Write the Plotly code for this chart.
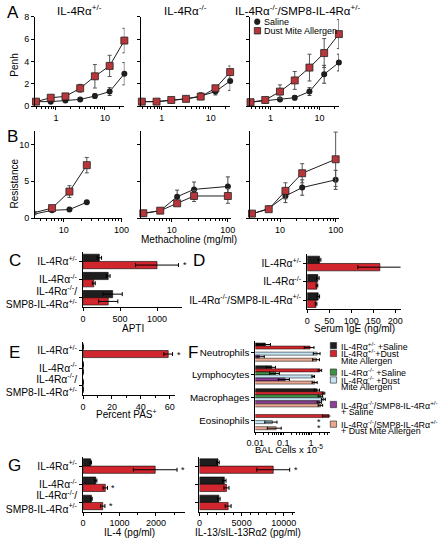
import plotly.graph_objects as go

W, H = 448, 544
FONT = "Liberation Sans, Arial, sans-serif"

# ---------------- data ----------------
doses_A = [0.39, 0.78, 1.56, 3.125, 6.25, 12.5, 25]
doses_B1 = [3.125, 6.25, 12.5, 25]
doses_B = [3.125, 6.25, 12.5, 25, 100]

titles_A = ["IL-4Rα<sup>+/-</sup>", "IL-4Rα<sup>-/-</sup>",
            "IL-4Rα<sup>-/-</sup>/SMP8-IL-4Rα<sup>+/-</sup>"]

penh_saline = [[0.4, 0.4, 0.5, 0.6, 0.9, 1.3, 2.9],
               [0.4, 0.4, 0.5, 0.65, 0.9, 1.3, 2.25],
               [0.35, 0.5, 0.6, 0.75, 1.3, 2.85, 3.9]]
penh_saline_err = [[0.1, 0.1, 0.1, 0.1, 0.2, 0.35, 1.0],
                   [0.1, 0.1, 0.1, 0.1, 0.3, 0.3, 0.85],
                   [0.1, 0.1, 0.15, 0.2, 0.35, 0.8, 0.75]]
penh_dust = [[0.4, 0.75, 0.87, 1.6, 2.67, 3.6, 5.87],
             [0.4, 0.4, 0.55, 0.65, 0.85, 1.6, 3.05],
             [0.35, 0.55, 1.3, 2.3, 3.45, 4.75, 6.45]]
penh_dust_err = [[0.1, 0.15, 0.15, 0.35, 1.05, 0.95, 1.1],
                 [0.1, 0.1, 0.1, 0.1, 0.2, 0.2, 0.55],
                 [0.1, 0.1, 0.6, 0.8, 1.2, 1.3, 1.3]]

res_saline = [[0.55, 1.05, 1.15, 2.15],
              [0.6, 1.0, 2.9, 3.9, 4.3],
              [0.55, 1.3, 3.0, 4.15, 5.2]]
res_saline_err = [[0.1, 0.1, 0.1, 0.2],
                  [0.3, 0.15, 0.9, 1.0, 1.3],
                  [0.2, 0.15, 0.9, 1.05, 1.3]]
res_dust = [[0.75, 1.35, 3.6, 7.2],
            [0.65, 1.0, 2.0, 3.0, 3.0],
            [0.6, 1.2, 3.7, 6.1, 8.0]]
res_dust_err = [[0.15, 0.15, 0.8, 1.05],
                [0.2, 0.15, 0.3, 0.75, 1.0],
                [0.15, 0.2, 1.1, 1.3, 3.7]]

geno_keys = ["het", "ko", "tg"]
geno_labels = ["IL-4Rα<sup>+/-</sup>", "IL-4Rα<sup>-/-</sup>",
               "IL-4Rα<sup>-/-</sup>/<br>SMP8-IL-4Rα<sup>+/-</sup>"]
geno_labels_D = ["IL-4Rα<sup>+/-</sup>", "IL-4Rα<sup>-/-</sup>",
                 "IL-4Rα<sup>-/-</sup>/SMP8-IL-4Rα<sup>+/-</sup>"]

apti_saline = [220, 340, 400]
apti_saline_err = [30, 25, 130]
apti_dust = [1000, 145, 340]
apti_dust_err = [290, 20, 130]

ige_saline = [28, 24, 25]
ige_saline_err = [3, 3, 3]
ige_dust = [165, 22, 20]
ige_dust_err = [50, 2, 2]

pas_saline = [0, 0, 0]
pas_dust = [59, 0, 0]
pas_dust_err = [3, 0, 0]

cell_types = ["Neutrophils", "Lymphocytes", "Macrophages", "Eosinophils"]
bal_values = [[0.023, 0.039, 1.65, None],
              [0.92, 2.1, 2.8, 4.4],
              [None, 0.053, 2.2, None],
              [1.65, 1.2, 2.8, 0.041],
              [0.014, 0.117, 2.0, None],
              [1.57, 1.37, 2.2, 0.056]]
bal_err = [[0.012, 0.014, 0.35, 0],
           [0.35, 0.3, 0.3, 1.8],
           [0, 0.02, 0.4, 0],
           [0.45, 0.13, 0.45, 0.019],
           [0.007, 0.05, 0.35, 0],
           [0.43, 0.28, 0.4, 0.029]]
bal_colors = ["#1e1e1e", "#d1262d", "#3f9147", "#c4e4f3", "#8e3f98", "#e8a891"]
bal_legend = [["IL-4Rα<sup>+/-</sup> +Saline"],
              ["IL-4Rα<sup>+/-</sup>+Dust", "Mite Allergen"],
              ["IL-4Rα<sup>-/-</sup> +Saline"],
              ["IL-4Rα<sup>-/-</sup> +Dust", "Mite Allergen"],
              ["IL-4Rα<sup>-/-</sup>/SMP8-IL-4Rα<sup>+/-</sup>", "+ Saline"],
              ["IL-4Rα<sup>-/-</sup>/SMP8-IL-4Rα<sup>+/-</sup>", "+ Dust Mite Allergen"]]

il4_saline = [210, 350, 230]
il4_saline_err = [20, 30, 20]
il4_dust = [1980, 610, 540]
il4_dust_err = [600, 60, 60]
il13_saline = [2200, 2950, 2300]
il13_saline_err = [150, 200, 150]
il13_dust = [8750, 3200, 3400]
il13_dust_err = [1950, 300, 350]

# ---------------- helpers ----------------
def dx(a, b):
    return [a / W, b / W]

def dy(top, bottom):
    return [1 - bottom / H, 1 - top / H]

def px(x):
    return x / W

def py(y):
    return 1 - y / H

BLACK = "#1e1e1e"
RED = "#d1262d"
SQ_RED = "#b8363a"
TICKSIZE = 9
CATSIZE = 10.3

def base_axis(dom, rng, **kw):
    d = dict(domain=dom, range=rng, showline=True, linecolor="black", linewidth=1,
             ticks="outside", ticklen=3, tickwidth=1, tickcolor="black",
             showgrid=False, zeroline=False,
             tickfont=dict(size=TICKSIZE, color="black", family=FONT))
    d.update(kw)
    return d

fig = go.Figure()
layout = {}
annotations = []
shapes = []

def star(xr, yr, x, y, xshift=6, yshift=0):
    annotations.append(dict(xref=xr, yref=yr, x=x, y=y, text="*", showarrow=False,
                            xshift=xshift, yshift=yshift, xanchor="center", yanchor="middle",
                            font=dict(size=9, color="black", family=FONT)))

def text(x, y, t, size=10, angle=0, xanchor="center", yanchor="middle"):
    annotations.append(dict(xref="paper", yref="paper", x=px(x), y=py(y), text=t,
                            showarrow=False, textangle=angle, xanchor=xanchor,
                            yanchor=yanchor, font=dict(size=size, color="black", family=FONT)))

# ---------------- Panel A ----------------
A_dom = [(27, 120), (137, 230), (250, 343)]
minorA = [0.4, 0.5, 0.6, 0.7, 0.8, 0.9, 2, 3, 4, 5, 6, 7, 8, 9, 20]
for i in range(3):
    n = i + 1
    xa = "x" if n == 1 else f"x{n}"
    ya = "y" if n == 1 else f"y{n}"
    layout["xaxis" if n == 1 else f"xaxis{n}"] = base_axis(
        dx(*A_dom[i]), [-0.43, 1.40], type="log", anchor=ya,
        tickvals=[1, 10], ticktext=["1", "10"],
        minor=dict(tickvals=minorA, ticks="outside", ticklen=2, tickcolor="black"))
    layout["yaxis" if n == 1 else f"yaxis{n}"] = base_axis(
        dy(12, 103), [0, 8], anchor=xa, tickvals=[0, 2, 4, 6, 8],
        showticklabels=(i == 0))
    fig.add_trace(go.Scatter(x=doses_A, y=penh_saline[i], xaxis=xa, yaxis=ya,
                             mode="lines+markers", showlegend=False, cliponaxis=False,
                             line=dict(color=BLACK, width=1),
                             marker=dict(symbol="circle", size=6, color=BLACK),
                             error_y=dict(type="data", array=penh_saline_err[i],
                                          color="#444", thickness=1, width=2)))
    fig.add_trace(go.Scatter(x=doses_A, y=penh_dust[i], xaxis=xa, yaxis=ya,
                             mode="lines+markers", showlegend=False, cliponaxis=False,
                             line=dict(color=BLACK, width=1),
                             marker=dict(symbol="square", size=7, color=SQ_RED,
                                         line=dict(color="#222", width=0.8)),
                             error_y=dict(type="data", array=penh_dust_err[i],
                                          color="#555", thickness=1, width=2)))
    text(sum(A_dom[i]) / 2 + (0 if i < 2 else 3), 5, titles_A[i], size=11.5)

star("x", "y", doses_A[-1], penh_dust[0][-1], xshift=8, yshift=2)
star("x3", "y3", doses_A[-1], penh_dust[2][-1], xshift=8, yshift=0)
text(6, 61, "Penh", size=10, angle=-90)
text(4, 8, "A", size=17)

# legend for A
shapes.append(dict(type="circle", xref="paper", yref="paper",
                   x0=px(255), x1=px(261), y0=py(20), y1=py(14),
                   fillcolor=BLACK, line=dict(color=BLACK, width=0.5)))
shapes.append(dict(type="rect", xref="paper", yref="paper",
                   x0=px(255), x1=px(261.5), y0=py(29.5), y1=py(23),
                   fillcolor=SQ_RED, line=dict(color="#222", width=0.8)))
text(263, 17, "Saline", size=9, xanchor="left")
text(263, 26.5, "Dust Mite Allergen", size=9, xanchor="left")

# ---------------- Panel B ----------------
B_dom = [(27, 117), (137, 231), (250, 343)]
B_rng = [[0.5, 2.0], [0.45, 2.06], [0.45, 2.06]]
minorB = [4, 5, 6, 7, 8, 9, 20, 30, 40, 50, 60, 70, 80, 90]
for i in range(3):
    n = i + 4
    xa, ya = f"x{n}", f"y{n}"
    layout[f"xaxis{n}"] = base_axis(
        dx(*B_dom[i]), B_rng[i], type="log", anchor=ya,
        tickvals=[10, 100], ticktext=["10", "100"],
        minor=dict(tickvals=minorB, ticks="outside", ticklen=2, tickcolor="black"))
    layout[f"yaxis{n}"] = base_axis(dy(128, 217), [0, 11.9], anchor=xa,
                                   tickvals=[0, 5, 10], showticklabels=(i == 0))
    xs = doses_B1 if i == 0 else doses_B
    fig.add_trace(go.Scatter(x=xs, y=res_saline[i], xaxis=xa, yaxis=ya,
                             mode="lines+markers", showlegend=False, cliponaxis=False,
                             line=dict(color=BLACK, width=1),
                             marker=dict(symbol="circle", size=6, color=BLACK),
                             error_y=dict(type="data", array=res_saline_err[i],
                                          color="#444", thickness=1, width=2)))
    fig.add_trace(go.Scatter(x=xs, y=res_dust[i], xaxis=xa, yaxis=ya,
                             mode="lines+markers", showlegend=False, cliponaxis=False,
                             line=dict(color=BLACK, width=1),
                             marker=dict(symbol="square", size=7, color=SQ_RED,
                                         line=dict(color="#222", width=0.8)),
                             error_y=dict(type="data", array=res_dust_err[i],
                                          color="#555", thickness=1, width=2)))
star("x4", "y4", doses_B1[-1], res_dust[0][-1], xshift=9, yshift=1)
text(6, 182, "Resistance", size=10, angle=-90)
text(4, 134, "B", size=17)
text(187, 239, "Methacholine (mg/ml)", size=10)

# ---------------- bar helpers ----------------
def hbar_pair(n, xdom, ydom, xrng, sal, sal_err, dust, dust_err, labels, show_labels=True,
              tickvals_x=None, ticktext_x=None, minor=None):
    xa, ya = f"x{n}", f"y{n}"
    xkw = dict(anchor=ya, tickvals=tickvals_x, minor=minor if minor else {})
    if ticktext_x:
        xkw["ticktext"] = ticktext_x
    layout[f"xaxis{n}"] = base_axis(dx(*xdom), xrng, **xkw)
    layout[f"yaxis{n}"] = base_axis(dy(*ydom), [2.5, -0.5], anchor=xa, type="category",
                                   categoryorder="array", categoryarray=geno_keys,
                                   tickvals=geno_keys, ticktext=labels,
                                   showticklabels=show_labels,
                                   tickfont=dict(size=CATSIZE, color="black", family=FONT))
    fig.add_trace(go.Bar(y=geno_keys, x=sal, orientation="h", xaxis=xa, yaxis=ya,
                         marker=dict(color=BLACK, line=dict(color="black", width=0.6)),
                         error_x=dict(type="data", array=sal_err, color="black",
                                      thickness=1, width=2),
                         showlegend=False))
    fig.add_trace(go.Bar(y=geno_keys, x=dust, orientation="h", xaxis=xa, yaxis=ya,
                         marker=dict(color=RED, line=dict(color="black", width=0.6)),
                         error_x=dict(type="data", array=dust_err, color="black",
                                      thickness=1, width=2),
                         showlegend=False))

# Panel C
hbar_pair(7, (77, 180), (252, 307.5), [0, 1340], apti_saline, apti_saline_err,
          apti_dust, apti_dust_err, geno_labels, tickvals_x=[0, 500, 1000])
star("x7", "y7", apti_dust[0] + apti_dust_err[0], geno_keys[0], xshift=7, yshift=-4)
text(129, 330, "APTI", size=10)
text(6, 260, "C", size=17)

# Panel D
hbar_pair(8, (310, 407), (254, 310), [0, 212], ige_saline, ige_saline_err,
          ige_dust, ige_dust_err, geno_labels_D, tickvals_x=[0, 50, 100, 150, 200])
star("x8", "y8", ige_dust[0] + ige_dust_err[0], geno_keys[0], xshift=6, yshift=-4)
text(359, 330, "Serum IgE (ng/ml)", size=10)
text(197, 260, "D", size=17)

# Panel E
hbar_pair(9, (77, 173), (343, 397), [0, 64], pas_saline, [0, 0, 0],
          pas_dust, pas_dust_err, geno_labels, tickvals_x=[0, 20, 40, 60],
          minor=dict(dtick=10, ticks="outside", ticklen=2, tickcolor="black"))
star("x9", "y9", pas_dust[0] + pas_dust_err[0], geno_keys[0], xshift=6, yshift=-4)
text(122, 417, "Percent PAS<sup>+</sup>", size=10)
text(6, 354, "E", size=17)

# Panel G
hbar_pair(11, (77, 183), (460.5, 516), [0, 2800], il4_saline, il4_saline_err,
          il4_dust, il4_dust_err, geno_labels, tickvals_x=[0, 1000, 2000],
          minor=dict(dtick=500, ticks="outside", ticklen=2, tickcolor="black"))
for k in range(3):
    star("x11", "y11", il4_dust[k] + il4_dust_err[k], geno_keys[k], xshift=6, yshift=-4)
text(125, 537, "IL-4 (pg/ml)", size=10)
text(6, 469, "G", size=17)

hbar_pair(12, (198, 297), (460.5, 516), [0, 11300], il13_saline, il13_saline_err,
          il13_dust, il13_dust_err, geno_labels, show_labels=False,
          tickvals_x=[0, 5000, 10000], ticktext_x=["0", "5000", "10000"],
          minor=dict(dtick=1000, ticks="outside", ticklen=2, tickcolor="black"))
star("x12", "y12", il13_dust[0] + il13_dust_err[0], geno_keys[0], xshift=6, yshift=-4)
text(248, 537, "IL-13/sIL-13Rα2 (pg/ml)", size=10)

# ---------------- Panel F ----------------
layout["xaxis10"] = base_axis(dx(256, 334), [-2, 0.69], type="log", anchor="y10",
                              tickvals=[0.01, 0.1, 1], ticktext=["0.01", "0.1", "1"],
                              ticklen=2,
                              minor=dict(tickvals=[0.02, 0.03, 0.04, 0.05, 0.06, 0.07, 0.08, 0.09,
                                                   0.2, 0.3, 0.4, 0.5, 0.6, 0.7, 0.8, 0.9,
                                                   2, 3, 4],
                                         ticks="outside", ticklen=1.5, tickcolor="black"))
layout["yaxis10"] = base_axis(dy(342, 435), [3.5, -0.5], anchor="x10", type="category",
                              categoryorder="array", categoryarray=cell_types,
                              tickfont=dict(size=9.8, color="black", family=FONT))
for s in range(6):
    fig.add_trace(go.Bar(y=cell_types, x=bal_values[s], orientation="h",
                         xaxis="x10", yaxis="y10", showlegend=False,
                         marker=dict(color=bal_colors[s], line=dict(color="black", width=0.5)),
                         error_x=dict(type="data", array=bal_err[s], color="black",
                                      thickness=1, width=1.5)))
slot = 93 / 4
bw = slot * 0.8 / 6
for s in (1, 3, 5):
    v = bal_values[s][3]
    star("x10", "y10", v + bal_err[s][3], cell_types[3], xshift=6,
         yshift=-(s - 2.5) * bw)
text(291, 452, "BAL Cells x 10<sup>-5</sup>", size=9.5)
text(191, 354, "F", size=17)

# legend for F (manual)
leg_y = [347, 355, 374, 382, 407, 427]
for s in range(6):
    y0 = leg_y[s]
    shapes.append(dict(type="rect", xref="paper", yref="paper",
                       x0=px(334), x1=px(340.5), y0=py(y0 + 3.2), y1=py(y0 - 3.2),
                       fillcolor=bal_colors[s], line=dict(color="#222", width=0.6)))
    for j, ln in enumerate(bal_legend[s]):
        text(343, y0 + 7.4 * j, ln, size=8.9, xanchor="left")

# ---------------- layout ----------------
layout.update(dict(width=W, height=H, margin=dict(l=0, r=0, t=0, b=0),
                   paper_bgcolor="white", plot_bgcolor="white",
                   barmode="group", bargap=0.2, bargroupgap=0,
                   font=dict(family=FONT, color="black"),
                   showlegend=False, annotations=annotations, shapes=shapes))
fig.update_layout(**layout)
fig.write_html("out.html", config={"displayModeBar": False},
               post_script="document.body.style.margin='0px';")
